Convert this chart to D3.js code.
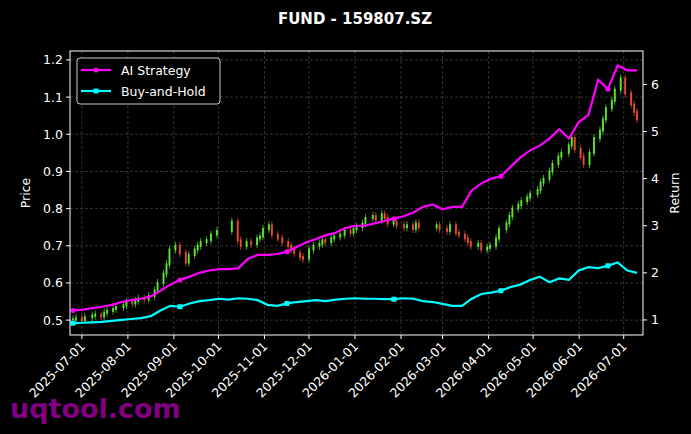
<!DOCTYPE html><html><head><meta charset="utf-8">
<script src="https://cdn.jsdelivr.net/npm/d3@7"></script>
<style>body{margin:0;background:#000}svg{display:block;font-family:"DejaVu Sans",sans-serif}</style></head><body>
<svg id="c" width="691" height="434"></svg>
<script>
const title = "FUND - 159807.SZ";
const xTicks = ["2025-07-01","2025-08-01","2025-09-01","2025-10-01","2025-11-01","2025-12-01","2026-01-01","2026-02-01","2026-03-01","2026-04-01","2026-05-01","2026-06-01","2026-07-01"];
const priceTicks = [0.5,0.6,0.7,0.8,0.9,1.0,1.1,1.2];
const returnTicks = [1,2,3,4,5,6];
const closes = [.502,.505,.500,.508,.512,.515,.510,.520,.525,.530,.535,
.540,.548,.545,.552,.558,.556,.565,.580,.600,.625,
.650,.690,.700,.680,.655,.675,.690,.700,.710,.715,.730,
.740,.765,.715,.700,.710,.705,.720,.725,
.745,.755,.730,.720,.710,.700,.690,.680,.670,.665,
.690,.700,.705,.715,.710,.720,.725,.730,.740,.735,.745,
.750,.760,.775,.780,.770,.785,.775,.760,.765,.755,
.750,.755,.745,.760,.750,.755,
.745,.740,.755,.735,.730,.720,.710,.700,.705,.690,.695,
.700,.720,.745,.760,.780,.800,.810,.820,.830,.840,
.850,.870,.880,.900,.920,.940,.950,.970,.990,
.960,.940,.920,.950,.990,1.010,1.040,1.070,1.090,1.120,1.150,
1.110,1.080,1.060,1.040];
const strategy = [1.20,1.22,1.25,1.28,1.32,1.38,1.42,1.45,1.50,1.62,1.75,1.85,1.92,2.0,2.05,2.08,2.08,2.10,2.30,2.38,2.38,2.40,2.45,2.55,2.65,2.72,2.80,2.85,2.95,3.0,3.0,3.05,3.10,3.15,3.20,3.28,3.40,3.45,3.35,3.40,3.40,3.75,3.90,4.00,4.05,4.25,4.45,4.6,4.7,4.85,5.05,4.85,5.2,5.35,6.1,5.9,6.40,6.30,6.30];
const buyHold = [0.93,0.94,0.95,0.96,0.98,1.0,1.02,1.04,1.08,1.20,1.30,1.28,1.35,1.40,1.42,1.45,1.43,1.46,1.45,1.42,1.32,1.30,1.35,1.38,1.40,1.42,1.40,1.43,1.45,1.46,1.45,1.45,1.44,1.44,1.46,1.45,1.40,1.38,1.34,1.30,1.30,1.45,1.55,1.58,1.62,1.70,1.75,1.85,1.92,1.80,1.88,1.85,2.05,2.12,2.10,2.15,2.22,2.05,2.00];
const startDate = new Date(2025,5,25), endDate = new Date(2026,6,10);
const holidays = [[new Date(2025,9,1),new Date(2025,9,8)],[new Date(2026,1,14),new Date(2026,1,23)]];

const svg = d3.select("#c");
const m = {l:70,r:643,t:51,b:335};
const x = d3.scaleTime().domain([new Date(2025,5,23),new Date(2026,6,14)]).range([m.l,m.r]);
const yL = d3.scaleLinear().domain([0.46,1.224]).range([m.b,m.t]);
const yR = d3.scaleLinear().domain([0.68,6.71]).range([m.b,m.t]);

const tdays=[];
for(let d=new Date(startDate); d<=endDate; d=d3.timeDay.offset(d,1)){
  const w=d.getDay(); if(w===0||w===6) continue;
  if(holidays.some(h=>d>=h[0]&&d<=h[1])) continue;
  tdays.push(new Date(d));
}
const cdates = closes.map((c,i)=>tdays[Math.round(i*(tdays.length-1)/(closes.length-1))]);
const ldate = i => new Date(+startDate + (endDate-startDate)*i/(strategy.length-1));

svg.append("rect").attr("width",691).attr("height",434).attr("fill","#000");
const g=svg.append("g");
xTicks.forEach(t=>{const xx=x(d3.timeParse("%Y-%m-%d")(t));
 g.append("line").attr("x1",xx).attr("x2",xx).attr("y1",m.t).attr("y2",m.b).attr("stroke","#555").attr("stroke-dasharray","3,2").attr("stroke-width",0.6);});
priceTicks.forEach(t=>{g.append("line").attr("x1",m.l).attr("x2",m.r).attr("y1",yL(t)).attr("y2",yL(t)).attr("stroke","#555").attr("stroke-dasharray","3,2").attr("stroke-width",0.6);});

closes.forEach((c,i)=>{
  const o = i===0?c:closes[i-1];
  const xx=x(cdates[i]);
  const col = c>=o?"#66ff33":"#ff5533";
  g.append("line").attr("x1",xx).attr("x2",xx).attr("y1",yL(Math.max(o,c))-4).attr("y2",yL(Math.min(o,c))+4).attr("stroke",col).attr("stroke-width",0.8).attr("opacity",0.8);
  g.append("rect").attr("x",xx-1).attr("width",2).attr("y",yL(Math.max(o,c))-1).attr("height",Math.abs(yL(o)-yL(c))+2).attr("fill",col).attr("opacity",0.8);
});
const line = d3.line().x((d,i)=>x(ldate(i))).y(d=>yR(d));
[[buyHold,"#00ffff","rect"],[strategy,"#ff00ff","circle"]].forEach(([arr,col,mk])=>{
  g.append("path").attr("d",line(arr)).attr("fill","none").attr("stroke",col).attr("stroke-width",2.2);
  arr.forEach((v,i)=>{ if(i%11!==0) return;
    if(mk==="circle") g.append("circle").attr("cx",x(ldate(i))).attr("cy",yR(v)).attr("r",2.5).attr("fill",col);
    else g.append("rect").attr("x",x(ldate(i))-2.5).attr("y",yR(v)-2.5).attr("width",5).attr("height",5).attr("fill",col);
  });
});
g.append("rect").attr("x",m.l).attr("y",m.t).attr("width",m.r-m.l).attr("height",m.b-m.t).attr("fill","none").attr("stroke","#fff").attr("stroke-width",1);

const ax = svg.append("g").attr("fill","#fff").attr("font-size",12.5);
priceTicks.forEach(t=>{const y=yL(t);
  ax.append("line").attr("x1",m.l-4).attr("x2",m.l).attr("y1",y).attr("y2",y).attr("stroke","#fff");
  ax.append("text").attr("x",m.l-7).attr("y",y+4.5).attr("text-anchor","end").text(t.toFixed(1));});
returnTicks.forEach(t=>{const y=yR(t);
  ax.append("line").attr("x1",m.r).attr("x2",m.r+4).attr("y1",y).attr("y2",y).attr("stroke","#fff");
  ax.append("text").attr("x",m.r+8).attr("y",y+4.5).text(t);});
xTicks.forEach(t=>{const xx=x(d3.timeParse("%Y-%m-%d")(t));
  ax.append("line").attr("x1",xx).attr("x2",xx).attr("y1",m.b).attr("y2",m.b+4).attr("stroke","#fff");
  ax.append("text").attr("transform",`translate(${xx+4},${m.b+12}) rotate(-45)`).attr("text-anchor","end").text(t);});
ax.append("text").attr("transform",`translate(30,${(m.t+m.b)/2}) rotate(-90)`).attr("text-anchor","middle").text("Price");
ax.append("text").attr("transform",`translate(679,${(m.t+m.b)/2}) rotate(-90)`).attr("text-anchor","middle").text("Return");
svg.append("text").attr("x",355).attr("y",24).attr("text-anchor","middle").attr("fill","#fff").attr("font-weight","bold").attr("font-size",15).text(title);

const lg=svg.append("g").attr("transform","translate(77,58)");
lg.append("rect").attr("width",143).attr("height",46).attr("rx",3).attr("fill","#000").attr("stroke","#ccc");
[["AI Strategy","#ff00ff","circle"],["Buy-and-Hold","#00ffff","rect"]].forEach(([n,col,mk],i)=>{
  const yy=12+i*21;
  lg.append("line").attr("x1",4).attr("x2",34).attr("y1",yy).attr("y2",yy).attr("stroke",col).attr("stroke-width",2.2);
  if(mk==="circle") lg.append("circle").attr("cx",19).attr("cy",yy).attr("r",2.5).attr("fill",col);
  else lg.append("rect").attr("x",16.5).attr("y",yy-2.5).attr("width",5).attr("height",5).attr("fill",col);
  lg.append("text").attr("x",44).attr("y",yy+4.5).attr("fill","#fff").attr("font-size",12.5).text(n);
});
svg.append("text").attr("x",10).attr("y",418).attr("fill","#800080").attr("font-weight","bold").attr("font-size",27).text("uqtool.com");
</script></body></html>
